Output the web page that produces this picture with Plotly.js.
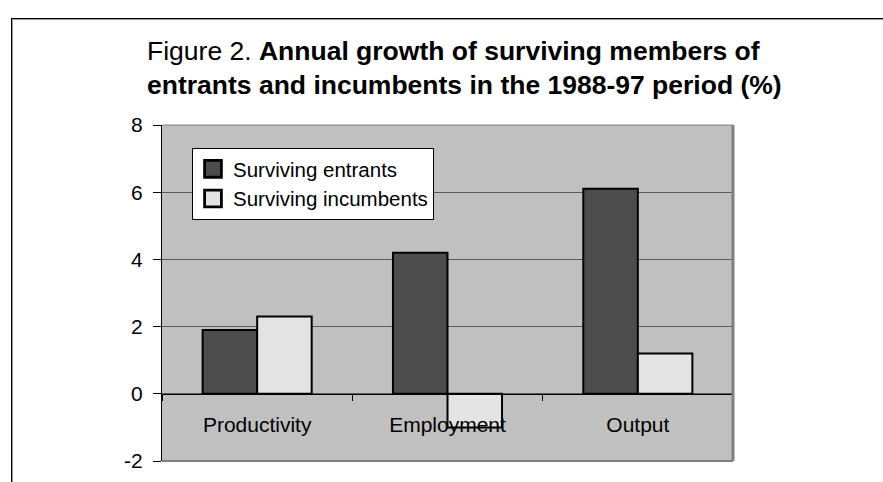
<!DOCTYPE html>
<html>
<head>
<meta charset="utf-8">
<script src="https://cdn.plot.ly/plotly-3.0.1.min.js"></script>
<style>
  html, body { margin: 0; padding: 0; background: #ffffff; }
  #chart { width: 883px; height: 482px; position: absolute; left: 0; top: 0; }
  #frame { position: absolute; left: 11px; top: 18px; width: 900px; height: 500px;
           border-top: 1px solid #000; border-left: 1px solid #000;
           box-shadow: inset 1px 1px 0 #9a9a9a; pointer-events: none; z-index: 5; }
</style>
</head>
<body>
<div id="chart"></div>
<div id="frame"></div>
<script>
// Data
const categories = ['Productivity', 'Employment', 'Output'];
const survivingEntrants = [1.9, 4.2, 6.1];
const survivingIncumbents = [2.3, -1.0, 1.2];
const seriesNames = ['Surviving entrants', 'Surviving incumbents'];
const yTickValues = [-2, 0, 2, 4, 6, 8];

const yRange = [-2, 8];
const FONT = 'Arial, "Liberation Sans", sans-serif';

const traces = [
  {
    type: 'bar', name: seriesNames[0], x: categories, y: survivingEntrants,
    marker: { color: '#4d4d4d', line: { color: '#000000', width: 2 } },
    hoverinfo: 'none'
  },
  {
    type: 'bar', name: seriesNames[1], x: categories, y: survivingIncumbents,
    marker: { color: '#e3e3e3', line: { color: '#000000', width: 2 } },
    hoverinfo: 'none'
  }
];

const layout = {
  width: 883, height: 482,
  margin: { l: 162, r: 150, t: 125, b: 21, pad: 0 },
  paper_bgcolor: 'rgba(0,0,0,0)',
  plot_bgcolor: '#c0c0c0',
  font: { family: FONT, color: '#000000', size: 20 },
  showlegend: true,
  barmode: 'group',
  bargap: 0.427,
  bargroupgap: 0,
  title: {
    text: 'Figure 2. <b>Annual growth of surviving members of</b><br><b>entrants and incumbents in the 1988-97 period (%)</b>',
    font: { family: FONT, size: 26.5, color: '#000000' },
    xref: 'container', yref: 'container',
    x: 147 / 883, xanchor: 'left',
    y: 1 - 60 / 482, yanchor: 'top'
  },
  xaxis: {
    type: 'category',
    anchor: 'free',
    position: (0 - yRange[0]) / (yRange[1] - yRange[0]),
    showline: true, linecolor: '#000000', linewidth: 1,
    ticks: 'outside', tickson: 'boundaries', ticklen: 6, tickcolor: '#000000', tickwidth: 1,
    showgrid: false, zeroline: false,
    tickfont: { family: FONT, size: 21, color: '#000000' },
    ticklabelstandoff: 12,
    fixedrange: true
  },
  yaxis: {
    range: yRange,
    tickvals: yTickValues,
    ticktext: yTickValues.map(String),
    showline: true, linecolor: '#000000', linewidth: 1,
    ticks: 'outside', ticklen: 8, tickcolor: '#000000', tickwidth: 1,
    showgrid: true, gridcolor: '#5a5a5a', gridwidth: 1,
    zeroline: false,
    tickfont: { family: FONT, size: 21, color: '#000000' },
    ticklabelstandoff: 6,
    fixedrange: true
  },
  legend: {
    x: (192 - 162) / 571, xanchor: 'left',
    y: (461 - 148) / 336, yanchor: 'top',
    bgcolor: '#ffffff', bordercolor: '#000000', borderwidth: 1,
    font: { family: FONT, size: 20.5, color: '#000000' },
    itemclick: false, itemdoubleclick: false,
    tracegroupgap: 0
  },
  shapes: [
    { type: 'line', xref: 'paper', yref: 'paper', x0: 0, x1: 1, y0: 1, y1: 1,
      line: { color: '#808080', width: 1 }, layer: 'above' },
    { type: 'line', xref: 'paper', yref: 'paper', x0: 1, x1: 1, y0: 0, y1: 1,
      line: { color: '#808080', width: 3 }, layer: 'above' },
    { type: 'line', xref: 'paper', yref: 'paper', x0: 0, x1: 1, y0: 0, y1: 0,
      line: { color: '#808080', width: 2 }, layer: 'above' }
  ]
};

Plotly.newPlot('chart', traces, layout, { displayModeBar: false, staticPlot: true }).then(function () {
  // enlarge the legend swatches to match the reference's bigger squares
  document.querySelectorAll('.legendpoints path').forEach(function (p) {
    var t = p.getAttribute('transform') || '';
    p.setAttribute('transform', t + ' scale(1.4)');
  });
});
</script>
</body>
</html>
